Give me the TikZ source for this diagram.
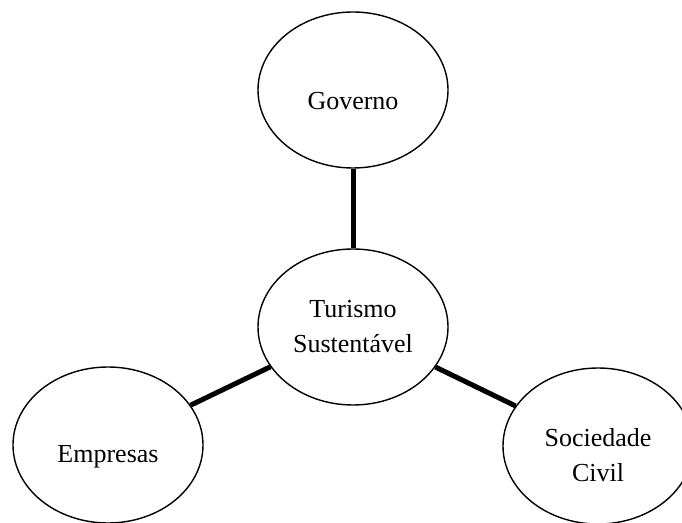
\documentclass[tikz,border=0pt]{standalone}
\usepackage{fontspec}
\setmainfont{Liberation Serif}
\usetikzlibrary{shapes.geometric}
\begin{document}
\begin{tikzpicture}[x=1pt,y=1pt,
 ell/.style={ellipse, draw, line width=1.4pt, minimum width=190pt, minimum height=156pt, inner sep=0pt},
 lbl/.style={font=\fontsize{26}{35}\selectfont, align=center},
 link/.style={line width=5pt}]
\useasboundingbox (0,0) rectangle (682,522);
\clip (0,0) rectangle (682,522);
\node[ell] (gov) at (353,432) {};
\node[ell] (tur) at (353,195) {};
\node[ell] (emp) at (108,77) {};
\node[ell] (soc) at (598,76) {};
\node[lbl] (govt) at (353,421) {Governo};
\node[lbl] (turt) at (353,195) {Turismo\\Sustentável};
\node[lbl] (empt) at (108,65) {Empresas};
\node[lbl] (soct) at (598,67) {Sociedade\\Civil};
\draw[link] (gov) -- (tur);
\draw[link] (tur) -- (emp);
\draw[link] (tur) -- (soc);
\end{tikzpicture}
\end{document}
